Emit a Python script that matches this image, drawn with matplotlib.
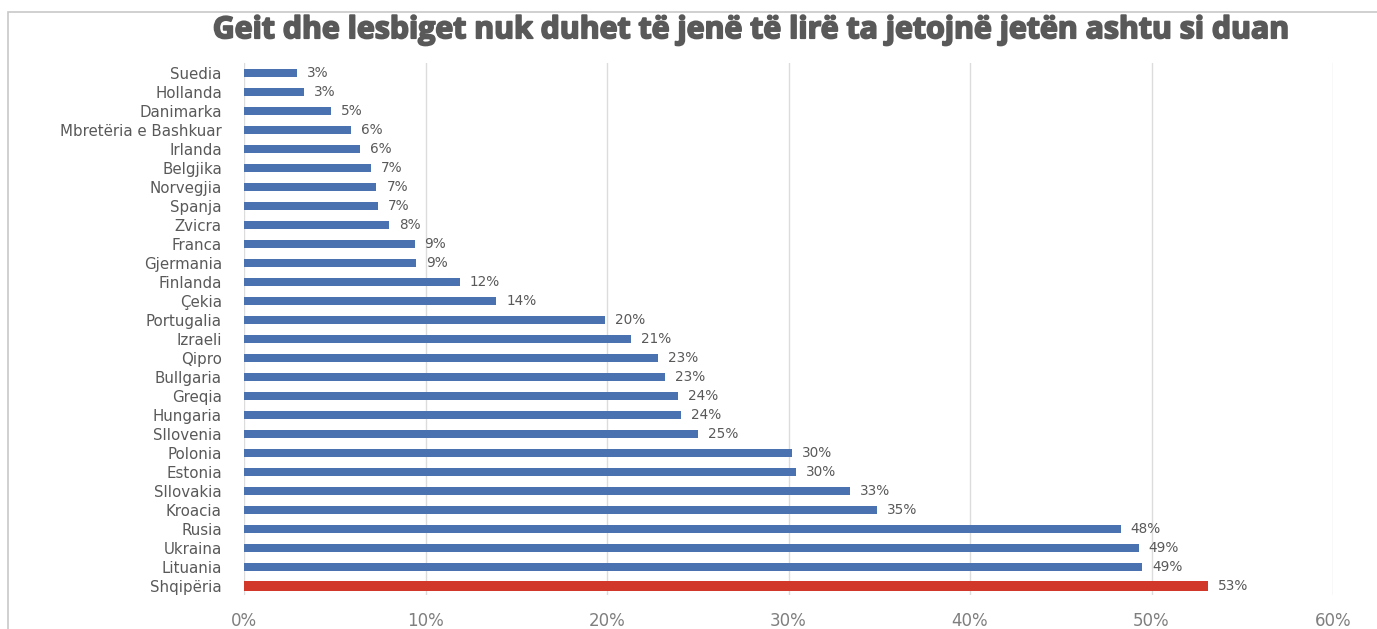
import matplotlib
matplotlib.use("Agg")
import matplotlib.pyplot as plt
import matplotlib.patheffects as pe
from matplotlib.patches import Rectangle
from matplotlib.ticker import PercentFormatter

plt.rcParams['font.family'] = ['DejaVu Sans']

countries = ['Suedia', 'Hollanda', 'Danimarka', 'Mbretëria e Bashkuar', 'Irlanda',
             'Belgjika', 'Norvegjia', 'Spanja', 'Zvicra', 'Franca', 'Gjermania',
             'Finlanda', 'Çekia', 'Portugalia', 'Izraeli', 'Qipro', 'Bullgaria',
             'Greqia', 'Hungaria', 'Sllovenia', 'Polonia', 'Estonia', 'Sllovakia',
             'Kroacia', 'Rusia', 'Ukraina', 'Lituania', 'Shqipëria']
values = [2.9, 3.3, 4.8, 5.9, 6.4, 7.0, 7.3, 7.4, 8.0, 9.4, 9.5, 11.9, 13.9,
          19.9, 21.3, 22.8, 23.2, 23.9, 24.1, 25.0, 30.2, 30.4, 33.4, 34.9,
          48.3, 49.3, 49.5, 53.1]
labels = ['3%', '3%', '5%', '6%', '6%', '7%', '7%', '7%', '8%', '9%', '9%',
          '12%', '14%', '20%', '21%', '23%', '23%', '24%', '24%', '25%', '30%',
          '30%', '33%', '35%', '48%', '49%', '49%', '53%']
highlight = 'Shqipëria'

blue = '#4a72b0'
red = '#d2382a'
text_grey = '#595959'

fig = plt.figure(figsize=(13.77, 6.29), dpi=100)
ax = fig.add_axes([244 / 1377, 0.0533, (1333 - 244) / 1377, 0.8458])

pos = list(range(len(countries)))
colors = [red if c == highlight else blue for c in countries]
heights = [0.55 if c == highlight else 0.42 for c in countries]
ax.barh(pos, values, height=heights, color=colors, zorder=3)

for p, v, lab in zip(pos, values, labels):
    ax.text(v + 0.55, p, lab, va='center', ha='left', fontsize=9.8,
            color=text_grey)

ax.set_xlim(0, 60)
ax.set_ylim(len(countries) - 0.5, -0.5)
ax.set_xticks(range(0, 61, 10))
ax.xaxis.set_major_formatter(PercentFormatter(decimals=0))
ax.set_yticks(pos)
ax.set_yticklabels(countries)
ax.tick_params(axis='y', length=0, pad=16, labelsize=10.8, labelcolor=text_grey)
ax.tick_params(axis='x', length=0, pad=12, labelsize=12, labelcolor='#7f7f7f')
ax.grid(axis='x', color='#dcdcdc', linewidth=1, zorder=0)
for s in ax.spines.values():
    s.set_visible(False)

fig.text(0.545, 0.952, 'Geit dhe lesbiget nuk duhet të jenë të lirë ta jetojnë jetën ashtu si duan',
         ha='center', va='center', fontsize=21.8, fontweight='bold',
         fontfamily='Open Sans', color=text_grey,
         path_effects=[pe.withStroke(linewidth=1.3, foreground=text_grey)])

fig.patches.append(Rectangle((8 / 1377, -0.05), 1.2, 1 - 12 / 629 + 0.05,
                             transform=fig.transFigure, fill=False,
                             edgecolor='#c8c8c8', linewidth=1.2))

fig.savefig('out.png', dpi=100)
